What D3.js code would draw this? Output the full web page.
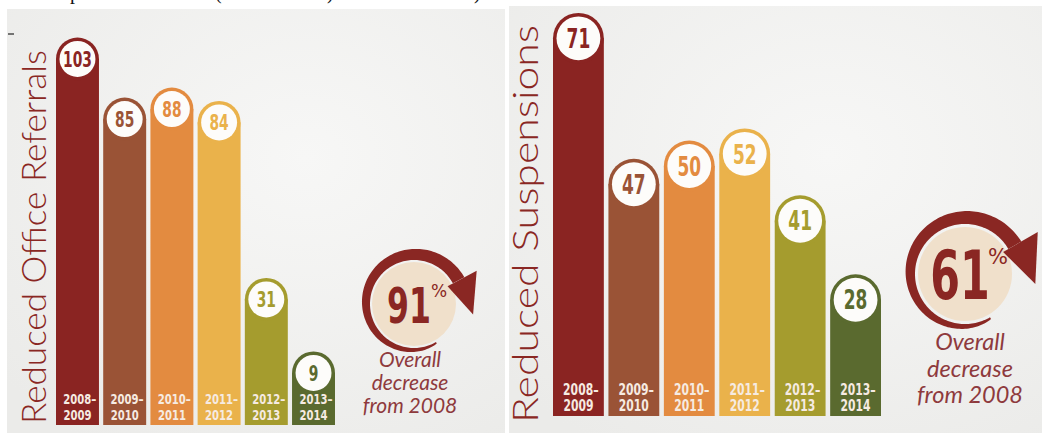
<!DOCTYPE html>
<html>
<head>
<meta charset="utf-8">
<script src="https://cdn.jsdelivr.net/npm/d3@7"></script>
<style>
  html, body { margin: 0; padding: 0; background: #fff; }
  svg { display: block; }
</style>
</head>
<body>
<div id="chart"></div>
<script>
const periods = ['2008–2009', '2009–2010', '2010–2011', '2011–2012', '2012–2013', '2013–2014']
const referrals = [103, 85, 88, 84, 31, 9]
const suspensions = [71, 47, 50, 52, 41, 28]
const barColors = ['#8a2422', '#9a5336', '#e38b40', '#eab24b', '#a59c2e', '#5a6a2f']
const panelTitles = ['Reduced Office Referrals', 'Reduced Suspensions']
const overallDecrease = [91, 61]
const noteLines = ['Overall', 'decrease', 'from 2008']

const W = 1042
const H = 433
const darkRed = '#8a2723'
const noteRed = '#8e3a3d'

const svg = d3
  .select('#chart')
  .append('svg')
  .attr('width', W)
  .attr('height', H)

const defs = svg.append('defs')
const grad = defs.append('radialGradient').attr('id', 'paper').attr('cx', '60%').attr('cy', '35%').attr('r', '80%')
grad.append('stop').attr('offset', '0%').attr('stop-color', '#f7f7f6')
grad.append('stop').attr('offset', '100%').attr('stop-color', '#ebebe9')

// cropped caption line above the panels (only descenders show)
svg.append('g')
  .attr('font-family', 'Liberation Serif, Times New Roman, serif')
  .attr('font-size', 20)
  .attr('fill', '#111')
  .selectAll('text')
  .data([['up', 60], ['(', 215], [')', 327], [')', 474]])
  .enter()
  .append('text')
  .attr('x', d => d[1])
  .attr('y', -1)
  .text(d => d[0])

// paper panels
svg.append('rect').attr('x', 7).attr('y', 9).attr('width', 498).attr('height', H - 9).attr('fill', 'url(#paper)')
svg.append('rect').attr('x', 509).attr('y', 6).attr('width', W - 509).attr('height', H - 6).attr('fill', 'url(#paper)')
svg.append('line').attr('x1', 8).attr('x2', 14).attr('y1', 34).attr('y2', 34).attr('stroke', '#222').attr('stroke-width', 1.2)

const panels = [
  {
    values: referrals, title: panelTitles[0], pct: overallDecrease[0],
    xRange: [56, 335], pad: 0.09, base: 425,
    y: d3.scaleLinear().domain([0, 100]).range([403, 69]),
    numSize: 22, yearSize: 14,
    titleX: 46, titleY0: 424, titleLen: 374, titleSize: 33,
    circle: { cx: 414, cy: 304, beige: 42, ri: 44, w0: 1.5, w1: 13, headIn: 38, headOut: 71, tipR: 60, end: 62, tip: 100 },
    pctSize: 50, pctSmall: 17, pctDx: 0.34, noteSize: 21, noteY: 367, noteGap: 23, noteX: 410
  },
  {
    values: suspensions, title: panelTitles[1], pct: overallDecrease[1],
    xRange: [553, 881], pad: 0.083, base: 416,
    y: d3.scaleLinear().domain([0, 100]).range([470, -138]),
    numSize: 27, yearSize: 15,
    titleX: 538, titleY0: 423, titleLen: 398, titleSize: 35,
    circle: { cx: 965, cy: 274, beige: 47, ri: 50, w0: 2, w1: 15, headIn: 44, headOut: 84, tipR: 71, end: 60, tip: 98 },
    pctSize: 68, pctSmall: 21, pctDx: 0.34, noteSize: 23.5, noteY: 350, noteGap: 26.5, noteX: 970
  }
]

panels.forEach(p => drawPanel(p))

function drawPanel(p) {
  const g = svg.append('g')

  const x = d3.scaleBand().domain(periods).range(p.xRange).paddingInner(p.pad).paddingOuter(0)
  const bw = x.bandwidth()
  const rows = periods.map((d, i) => ({ period: d, value: p.values[i], color: barColors[i] }))

  // vertical title
  g.append('text')
    .attr('transform', `translate(${p.titleX},${p.titleY0}) rotate(-90)`)
    .attr('font-family', 'Lato, Open Sans, sans-serif')
    .attr('font-weight', 300)
    .attr('font-size', p.titleSize)
    .attr('fill', darkRed)
    .attr('textLength', p.titleLen)
    .attr('lengthAdjust', 'spacingAndGlyphs')
    .text(p.title)

  const bar = g.selectAll('.bar')
    .data(rows)
    .enter()
    .append('g')
    .attr('class', 'bar')

  bar.append('rect')
    .attr('x', d => x(d.period))
    .attr('y', d => p.y(d.value))
    .attr('width', bw)
    .attr('height', d => p.base - p.y(d.value))
    .attr('fill', d => d.color)

  bar.append('circle')
    .attr('cx', d => x(d.period) + bw / 2)
    .attr('cy', d => p.y(d.value))
    .attr('r', bw / 2)
    .attr('fill', d => d.color)

  bar.append('circle')
    .attr('cx', d => x(d.period) + bw / 2)
    .attr('cy', d => p.y(d.value))
    .attr('r', bw / 2 - 3.5)
    .attr('fill', '#fdfcfa')

  bar.append('text')
    .attr('transform', d => `translate(${x(d.period) + bw / 2},${p.y(d.value) + p.numSize * 0.36}) scale(0.7,1)`)
    .attr('text-anchor', 'middle')
    .attr('font-family', 'DejaVu Sans Condensed, DejaVu Sans, sans-serif')
    .attr('font-weight', 'bold')
    .attr('font-size', p.numSize)
    .attr('fill', d => d.color)
    .text(d => d.value)

  // two line period labels
  bar.each(function(d) {
    const parts = d.period.split('–')
    const t = d3.select(this).append('text')
      .attr('text-anchor', 'middle')
      .attr('font-family', 'DejaVu Sans Condensed, DejaVu Sans, sans-serif')
      .attr('font-weight', 'bold')
      .attr('font-size', p.yearSize)
      .attr('fill', '#f6ebe2')
      .attr('transform', `translate(${x(d.period) + bw / 2},0) scale(0.8,1)`)
    t.append('tspan').attr('x', 3).attr('y', p.base - 21).text(parts[0] + '–')
    t.append('tspan').attr('x', 0).attr('y', p.base - 5).text(parts[1])
  })

  // decrease badge
  const c = p.circle
  g.append('circle').attr('cx', c.cx).attr('cy', c.cy).attr('r', c.beige).attr('fill', '#f0e0cb')

  const rad = a => a * Math.PI / 180
  const pt = (a, r) => [c.cx + r * Math.sin(rad(a)), c.cy - r * Math.cos(rad(a))]
  const start = 150
  const stop = 360 + c.end
  const outer = d3.range(start, stop + 0.1, 2).map(a => pt(a, c.ri + c.w0 + (c.w1 - c.w0) * Math.pow((a - start) / (stop - start), 0.7)))
  const inner = d3.range(stop, start - 0.1, -2).map(a => pt(a, c.ri))
  g.append('path')
    .attr('d', d3.line()(outer.concat(inner)) + 'Z')
    .attr('fill', darkRed)
  g.append('path')
    .attr('d', d3.line()([pt(stop, c.headIn), pt(stop, c.headOut), pt(360 + c.tip, c.tipR)]) + 'Z')
    .attr('fill', darkRed)

  g.append('text')
    .attr('transform', `translate(${c.cx - 5},${c.cy + p.pctSize * 0.37}) scale(0.7,1)`)
    .attr('text-anchor', 'middle')
    .attr('font-family', 'DejaVu Sans Condensed, DejaVu Sans, sans-serif')
    .attr('font-weight', 'bold')
    .attr('font-size', p.pctSize)
    .attr('fill', darkRed)
    .text(p.pct)
  g.append('text')
    .attr('x', c.cx + p.pctSize * p.pctDx)
    .attr('y', c.cy - p.pctSize * 0.14)
    .attr('font-family', 'DejaVu Sans, sans-serif')
    .attr('font-size', p.pctSmall)
    .attr('fill', darkRed)
    .text('%')

  g.append('g')
    .selectAll('text')
    .data(noteLines)
    .enter()
    .append('text')
    .attr('x', p.noteX)
    .attr('y', (d, i) => p.noteY + i * p.noteGap)
    .attr('text-anchor', 'middle')
    .attr('font-family', 'Lato, Open Sans, sans-serif')
    .attr('font-style', 'italic')
    .attr('font-size', p.noteSize)
    .attr('fill', noteRed)
    .text(d => d)
}
</script>
</body>
</html>
